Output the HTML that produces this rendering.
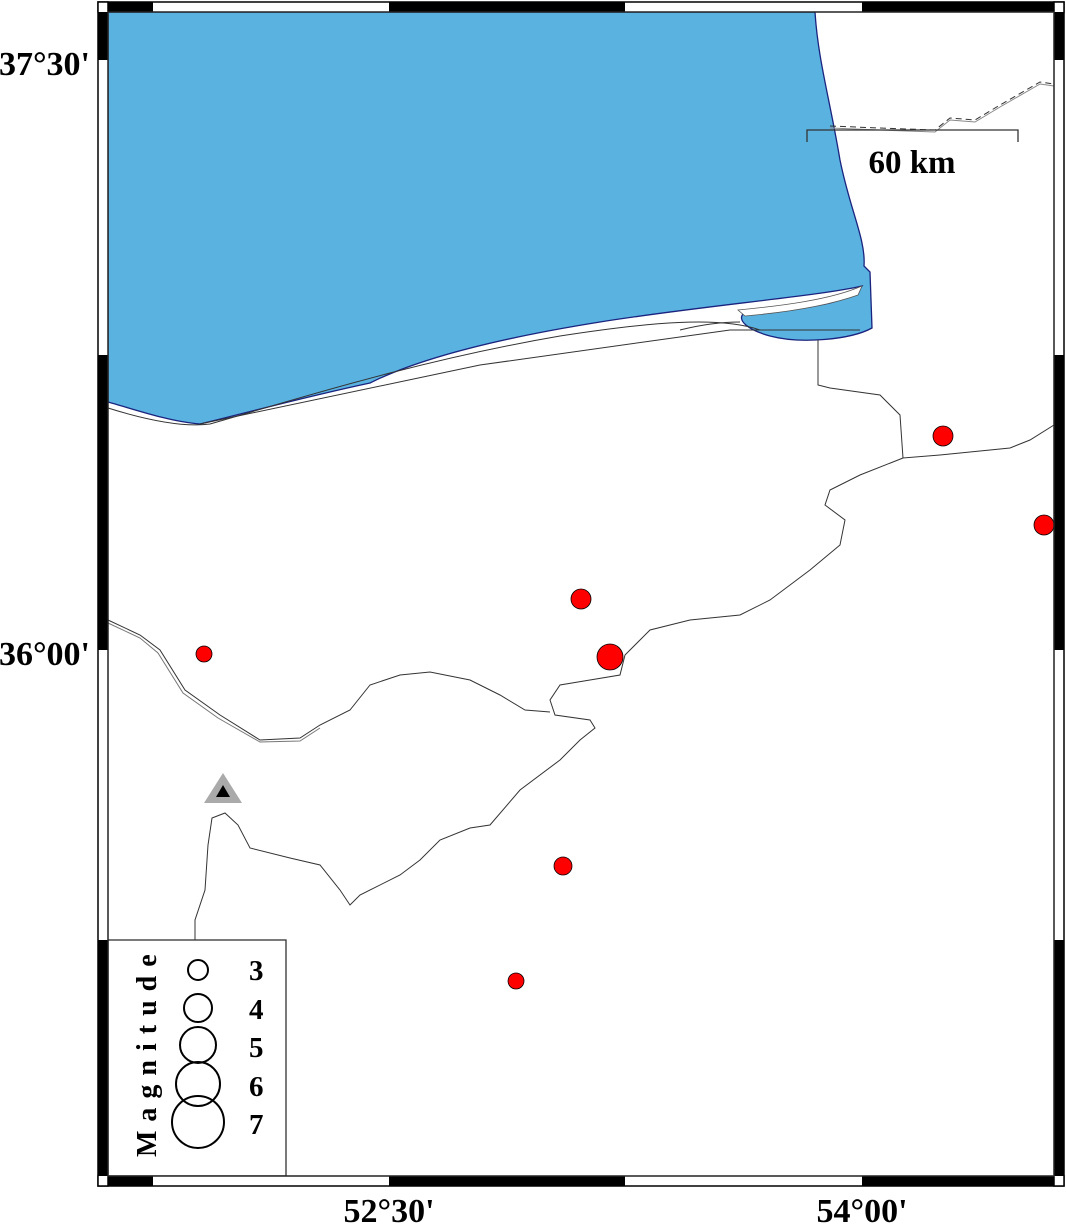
<!DOCTYPE html>
<html><head><meta charset="utf-8"><style>
html,body{margin:0;padding:0;background:#fff;}
svg{display:block;}
text{font-family:"Liberation Serif",serif;font-weight:bold;fill:#000;}
</style></head><body>
<svg width="1066" height="1225" viewBox="0 0 1066 1225" xmlns="http://www.w3.org/2000/svg">
<rect x="0" y="0" width="1066" height="1225" fill="#fff"/>
<!-- sea -->
<path d="M108,12 L815,12 C818,60 830,100 840,160 C850,210 866,240 864,266 L870,272 L872,328 C850,340 800,344 770,336 C748,330 736,320 744,313 C760,308 790,312 830,303 C848,298 858,292 862,286 C820,296 700,306 600,322 C500,338 420,358 370,383 C300,398 250,412 200,424 C170,422 130,408 108,402 Z" fill="#5ab2e0" stroke="#1a237e" stroke-width="1.3"/>
<!-- spit -->
<path d="M738,310 C780,306 830,300 862,286 L858,295 C830,305 790,312 745,316 Z" fill="#fff" stroke="#555" stroke-width="0.8"/>
<g fill="none" stroke="#333" stroke-width="1">
<path d="M108,408 C140,418 180,428 210,424 C300,398 420,360 560,336 C650,322 720,316 760,330"/>
<path d="M200,424 L480,365 L730,330 L860,330"/>
<path d="M680,330 C700,325 720,322 740,322"/>
<path d="M818,340 L818,385 L830,388 L880,395 L900,415 L903,458 L940,455 L1010,448 L1030,440 L1054,425"/>
<path d="M903,458 L860,475 L830,490 L825,505 L845,520 L840,545 L810,570 L770,600 L740,615 L690,620 L650,630 L625,655 L620,675 L590,680 L560,685 L550,700 L555,715 L590,720 L595,728 L580,740 L560,760 L520,790 L490,825 L470,828 L440,840 L420,860 L400,875 L360,895 L350,905 L340,890 L320,865 L290,858 L250,848 L238,825 L225,813 L212,818 L208,845 L205,890 L195,920 L195,940"/>
<path d="M108,620 L140,635 L160,650 L185,690 L220,715 L260,740 L300,738 L320,725 L350,710 L370,685 L400,675 L430,672 L470,680 L500,695 L525,710 L550,712"/>
<path d="M108,623 L140,638 L158,653 L183,693 L218,718 L260,742 L300,741 L320,728" stroke="#777"/>
<path d="M830,126 L880,128 L935,130 L950,118 L975,120 L1000,105 L1040,82 L1054,84" stroke-dasharray="6,4"/>
<path d="M830,128 L880,130 L935,132 L950,120 L975,122 L1000,107 L1040,84 L1054,86" stroke="#888"/>
</g>
<!-- scale -->
<path d="M807,142 L807,130 L1018,130 L1018,142" fill="none" stroke="#333" stroke-width="1.3"/>
<text x="912" y="173" font-size="33" text-anchor="middle">60 km</text>
<!-- quakes -->
<g fill="#f00" stroke="#000" stroke-width="0.8">
<circle cx="943" cy="436" r="10"/><circle cx="1044" cy="525" r="10"/>
<circle cx="581" cy="599" r="10"/><circle cx="610" cy="657" r="13"/>
<circle cx="204" cy="654" r="8"/><circle cx="563" cy="866" r="9"/>
<circle cx="516" cy="981" r="8"/>
</g>
<polygon points="223,773 242,803 204,803" fill="#aaa"/>
<polygon points="223,785 230,797 216,797" fill="#000"/>
<!-- legend -->
<rect x="108" y="940" width="178" height="236" fill="#fff" stroke="#333" stroke-width="1.3"/>
<g fill="none" stroke="#000" stroke-width="2">
<circle cx="198" cy="970" r="10"/><circle cx="198" cy="1008" r="14"/>
<circle cx="198" cy="1045" r="18"/><circle cx="198" cy="1084" r="22"/>
<circle cx="198" cy="1122" r="26"/>
</g>
<g font-size="29">
<text x="249" y="980">3</text><text x="249" y="1019">4</text><text x="249" y="1057">5</text><text x="249" y="1096">6</text><text x="249" y="1134">7</text>
</g>
<text transform="translate(156,1157) rotate(-90)" font-size="28" letter-spacing="9">Magnitude</text>
<!-- frame strips -->
<rect x="98" y="2" width="966" height="10" fill="#fff" stroke="#000" stroke-width="1.5"/>
<rect x="98" y="1176" width="966" height="10" fill="#fff" stroke="#000" stroke-width="1.5"/>
<rect x="98" y="2" width="10" height="1184" fill="#fff" stroke="#000" stroke-width="1.5"/>
<rect x="1054" y="2" width="10" height="1184" fill="#fff" stroke="#000" stroke-width="1.5"/>
<g fill="#000">
<rect x="108" y="2" width="45" height="10"/><rect x="389" y="2" width="236" height="10"/><rect x="862" y="2" width="192" height="10"/>
<rect x="108" y="1176" width="45" height="10"/><rect x="389" y="1176" width="236" height="10"/><rect x="862" y="1176" width="192" height="10"/>
<rect x="98" y="12" width="10" height="48"/><rect x="98" y="355" width="10" height="295"/><rect x="98" y="940" width="10" height="236"/>
<rect x="1054" y="12" width="10" height="48"/><rect x="1054" y="355" width="10" height="295"/><rect x="1054" y="940" width="10" height="236"/>
</g>
<rect x="108" y="12" width="946" height="1164" fill="none" stroke="#333" stroke-width="1"/>
<!-- labels -->
<g font-size="34">
<text x="90" y="75" text-anchor="end">37°30'</text>
<text x="90" y="665" text-anchor="end">36°00'</text>
<text x="389" y="1222" text-anchor="middle">52°30'</text>
<text x="862" y="1222" text-anchor="middle">54°00'</text>
</g>
</svg>
</body></html>
